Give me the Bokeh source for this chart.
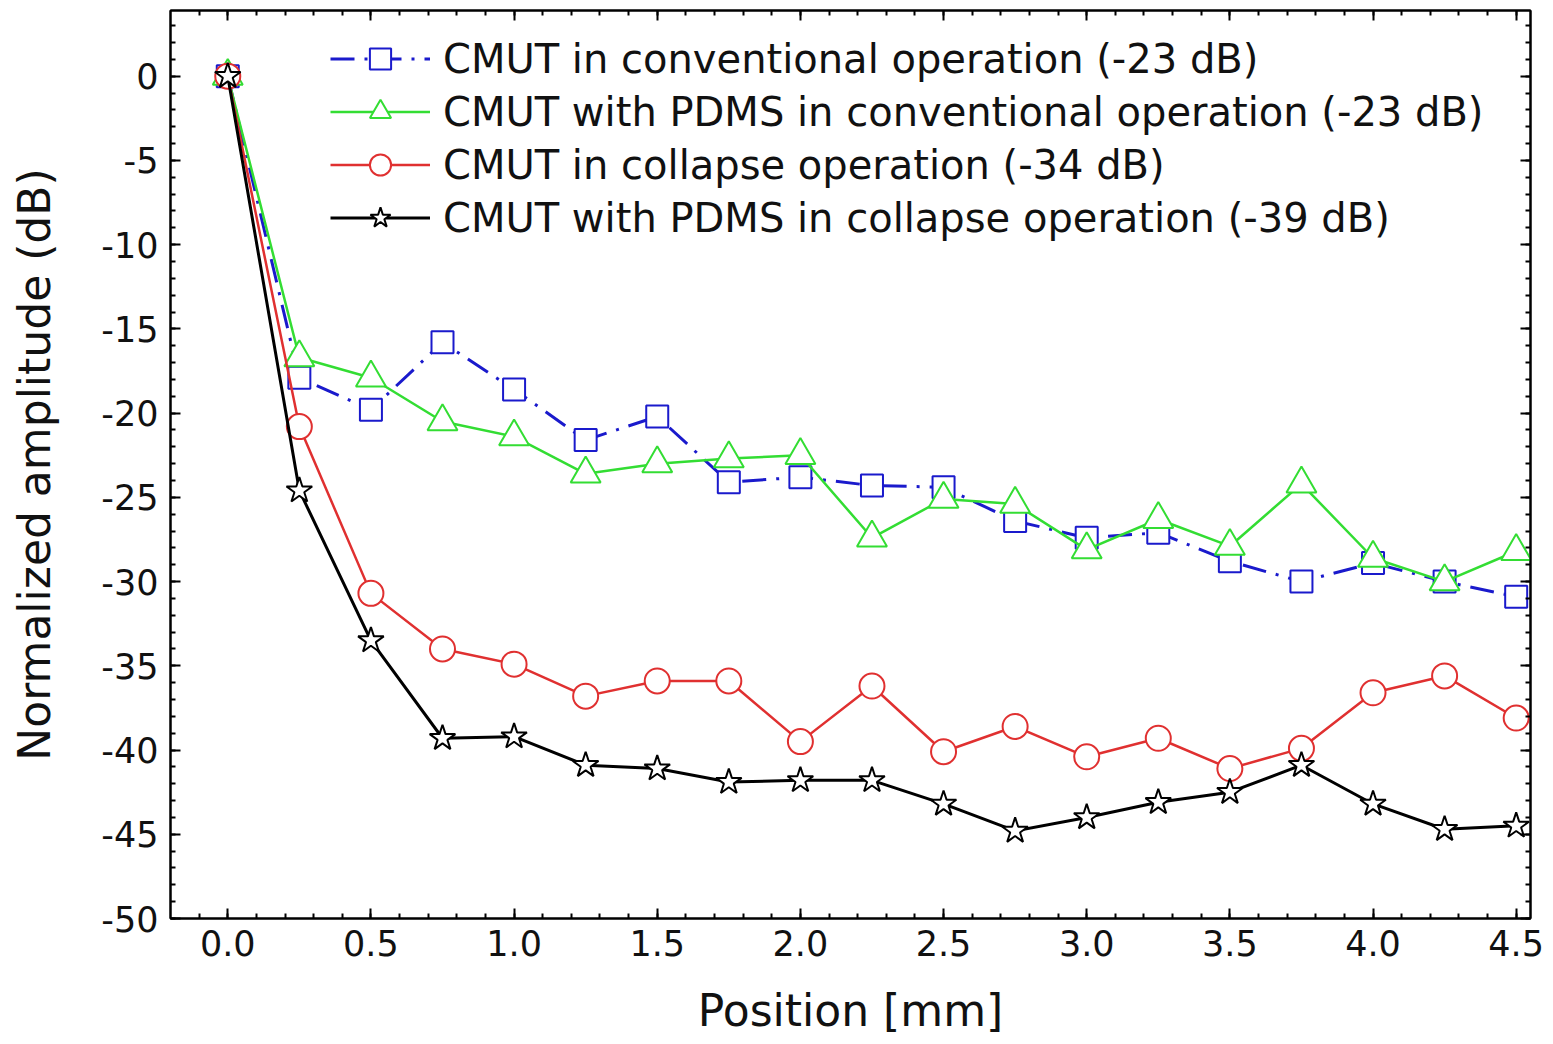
from bokeh.plotting import figure
from bokeh.models import Range1d, LinearAxis, FixedTicker, Legend, LegendItem, CustomJSTickFormatter
from bokeh.embed import file_html
from bokeh.resources import INLINE

position = [0.0, 0.25, 0.5, 0.75, 1.0, 1.25, 1.5, 1.75, 2.0, 2.25, 2.5, 2.75,
            3.0, 3.25, 3.5, 3.75, 4.0, 4.25, 4.5]
cmut_conv = [0.0, -17.9, -19.8, -15.8, -18.6, -21.6, -20.2, -24.1, -23.8, -24.3,
             -24.4, -26.4, -27.4, -27.1, -28.8, -30.0, -28.9, -30.0, -30.9]
pdms_conv = [0.0, -16.7, -17.9, -20.5, -21.4, -23.6, -23.0, -22.7, -22.5, -27.4,
             -25.1, -25.4, -28.1, -26.3, -27.9, -24.2, -28.6, -30.0, -28.2]
cmut_coll = [0.0, -20.8, -30.7, -34.0, -34.9, -36.8, -35.9, -35.9, -39.5, -36.2,
             -40.1, -38.6, -40.4, -39.3, -41.1, -39.9, -36.6, -35.6, -38.1]
pdms_coll = [0.0, -24.6, -33.5, -39.3, -39.2, -40.9, -41.1, -41.9, -41.8, -41.8,
             -43.2, -44.8, -44.0, -43.1, -42.5, -40.9, -43.2, -44.7, -44.5]

labels = ["CMUT in conventional operation (-23 dB)",
          "CMUT with PDMS in conventional operation (-23 dB)",
          "CMUT in collapse operation (-34 dB)",
          "CMUT with PDMS in collapse operation (-39 dB)"]

x_ticks = [0.0, 0.5, 1.0, 1.5, 2.0, 2.5, 3.0, 3.5, 4.0, 4.5]
x_minor = [round(-0.1 + 0.1 * i, 1) for i in range(47)]
y_ticks = [-50, -45, -40, -35, -30, -25, -20, -15, -10, -5, 0]
y_minor = list(range(-50, 4))

FONT = "DejaVu Sans"

p = figure(width=1553, height=1044, output_backend="svg", toolbar_location=None,
           x_range=Range1d(-0.2, 4.55), y_range=Range1d(-50, 3.9),
           min_border_left=170, min_border_right=23, min_border_top=10,
           min_border_bottom=126)
p.xgrid.visible = False
p.ygrid.visible = False
p.outline_line_color = "black"
p.outline_line_width = 2
p.background_fill_color = "white"
p.border_fill_color = "white"

def style_axis(ax, ticks, minor, show_labels):
    ax.ticker = FixedTicker(ticks=ticks, minor_ticks=minor)
    ax.major_tick_in = 10
    ax.major_tick_out = 0
    ax.minor_tick_in = 5
    ax.minor_tick_out = 0
    ax.axis_line_color = "black"
    ax.axis_line_width = 2
    ax.major_tick_line_color = "black"
    ax.major_tick_line_width = 2
    ax.minor_tick_line_color = "black"
    ax.minor_tick_line_width = 2
    ax.major_label_text_font = FONT
    ax.major_label_text_color = "#111111"
    ax.axis_label_text_font = FONT
    ax.axis_label_text_font_style = "normal"
    ax.axis_label_text_color = "#111111"
    if not show_labels:
        ax.major_label_text_font_size = "0px"
        ax.major_label_standoff = 0

xa = p.xaxis[0]
style_axis(xa, x_ticks, x_minor, True)
xa.major_label_text_font_size = "35px"
xa.major_label_standoff = 11
xa.axis_label = "Position [mm]"
xa.axis_label_text_font_size = "44px"
xa.axis_label_standoff = 26
xa.formatter = CustomJSTickFormatter(code="return tick.toFixed(1);")

ya = p.yaxis[0]
style_axis(ya, y_ticks, y_minor, True)
ya.major_label_text_font_size = "35px"
ya.major_label_standoff = 12
ya.axis_label = "Normalized amplitude (dB)"
ya.axis_label_text_font_size = "44px"
ya.axis_label_standoff = 38
ya.formatter = CustomJSTickFormatter(code="return tick.toFixed(0);")

top = LinearAxis()
style_axis(top, x_ticks, x_minor, False)
p.add_layout(top, "above")
right = LinearAxis()
style_axis(right, y_ticks, y_minor, False)
p.add_layout(right, "right")

items = []
series = [
    (cmut_conv, "#1a1acc", "24 10 3 10", "square", 22, 3),
    (pdms_conv, "#33dd33", "solid", "triangle", 30, 2.5),
    (cmut_coll, "#e03030", "solid", "circle", 25, 2.5),
    (pdms_coll, "black", "solid", "star", 27, 3),
]
for (ys, color, dash, marker, size, lw), lab in zip(series, labels):
    ln = p.line(position, ys, line_color=color, line_width=lw, line_dash=dash)
    mk = p.scatter(position, ys, marker=marker, size=size, line_color=color,
                   line_width=2, fill_color="white")
    items.append(LegendItem(label=lab, renderers=[ln, mk]))

legend = Legend(items=items, location=(160, 674))
legend.border_line_color = None
legend.background_fill_alpha = 0
legend.label_text_font = FONT
legend.label_text_font_size = "40px"
legend.label_text_color = "#111111"
legend.glyph_width = 100
legend.glyph_height = 53
legend.label_height = 47
legend.spacing = 0
legend.padding = 0
legend.margin = 0
legend.label_standoff = 13
p.add_layout(legend, "center")

open("out.html", "w").write(file_html(p, INLINE))
